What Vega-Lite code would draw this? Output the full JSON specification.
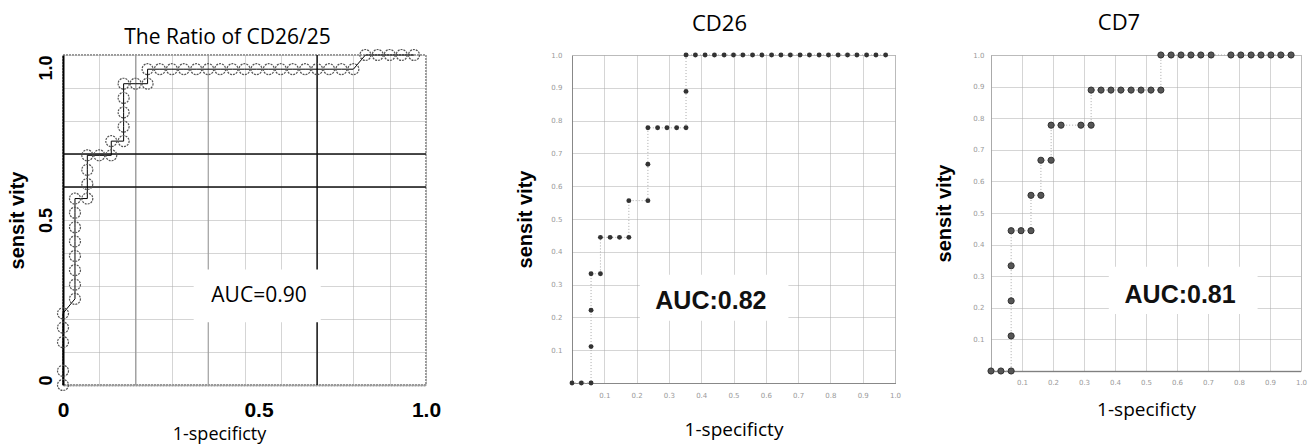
{
  "$schema": "https://vega.github.io/schema/vega-lite/v6.json",
  "padding": {"left": 6, "top": 11, "right": 0, "bottom": 0},
  "background": "white",
  "spacing": 73,
  "datasets": {
    "p1": [
      {"fpr": 0, "tpr": 0}, {"fpr": 0, "tpr": 0.043}, {"fpr": 0, "tpr": 0.13}, {"fpr": 0, "tpr": 0.174}, {"fpr": 0, "tpr": 0.217},
      {"fpr": 0.033, "tpr": 0.261}, {"fpr": 0.033, "tpr": 0.304}, {"fpr": 0.033, "tpr": 0.348}, {"fpr": 0.033, "tpr": 0.391}, {"fpr": 0.033, "tpr": 0.435}, {"fpr": 0.033, "tpr": 0.478}, {"fpr": 0.033, "tpr": 0.522}, {"fpr": 0.033, "tpr": 0.565},
      {"fpr": 0.067, "tpr": 0.565}, {"fpr": 0.067, "tpr": 0.609}, {"fpr": 0.067, "tpr": 0.652}, {"fpr": 0.067, "tpr": 0.696},
      {"fpr": 0.1, "tpr": 0.696}, {"fpr": 0.133, "tpr": 0.696}, {"fpr": 0.133, "tpr": 0.739},
      {"fpr": 0.167, "tpr": 0.739}, {"fpr": 0.167, "tpr": 0.783}, {"fpr": 0.167, "tpr": 0.826}, {"fpr": 0.167, "tpr": 0.87}, {"fpr": 0.167, "tpr": 0.913},
      {"fpr": 0.2, "tpr": 0.913}, {"fpr": 0.233, "tpr": 0.913}, {"fpr": 0.233, "tpr": 0.957},
      {"fpr": 0.267, "tpr": 0.957}, {"fpr": 0.3, "tpr": 0.957}, {"fpr": 0.333, "tpr": 0.957}, {"fpr": 0.367, "tpr": 0.957}, {"fpr": 0.4, "tpr": 0.957}, {"fpr": 0.433, "tpr": 0.957}, {"fpr": 0.467, "tpr": 0.957}, {"fpr": 0.5, "tpr": 0.957}, {"fpr": 0.533, "tpr": 0.957}, {"fpr": 0.567, "tpr": 0.957}, {"fpr": 0.6, "tpr": 0.957}, {"fpr": 0.633, "tpr": 0.957}, {"fpr": 0.667, "tpr": 0.957}, {"fpr": 0.7, "tpr": 0.957}, {"fpr": 0.733, "tpr": 0.957}, {"fpr": 0.767, "tpr": 0.957}, {"fpr": 0.8, "tpr": 0.957},
      {"fpr": 0.833, "tpr": 1}, {"fpr": 0.867, "tpr": 1}, {"fpr": 0.9, "tpr": 1}, {"fpr": 0.933, "tpr": 1}, {"fpr": 0.967, "tpr": 1}
    ],
    "p2": [
      {"fpr": 0, "tpr": 0}, {"fpr": 0.029, "tpr": 0}, {"fpr": 0.059, "tpr": 0}, {"fpr": 0.059, "tpr": 0.111}, {"fpr": 0.059, "tpr": 0.222}, {"fpr": 0.059, "tpr": 0.333},
      {"fpr": 0.088, "tpr": 0.333}, {"fpr": 0.088, "tpr": 0.444}, {"fpr": 0.118, "tpr": 0.444}, {"fpr": 0.147, "tpr": 0.444}, {"fpr": 0.176, "tpr": 0.444}, {"fpr": 0.176, "tpr": 0.556},
      {"fpr": 0.235, "tpr": 0.556}, {"fpr": 0.235, "tpr": 0.667}, {"fpr": 0.235, "tpr": 0.778}, {"fpr": 0.265, "tpr": 0.778}, {"fpr": 0.294, "tpr": 0.778}, {"fpr": 0.324, "tpr": 0.778}, {"fpr": 0.353, "tpr": 0.778}, {"fpr": 0.353, "tpr": 0.889}, {"fpr": 0.353, "tpr": 1},
      {"fpr": 0.382, "tpr": 1}, {"fpr": 0.412, "tpr": 1}, {"fpr": 0.441, "tpr": 1}, {"fpr": 0.471, "tpr": 1}, {"fpr": 0.5, "tpr": 1}, {"fpr": 0.529, "tpr": 1}, {"fpr": 0.559, "tpr": 1}, {"fpr": 0.588, "tpr": 1}, {"fpr": 0.618, "tpr": 1}, {"fpr": 0.647, "tpr": 1}, {"fpr": 0.676, "tpr": 1}, {"fpr": 0.706, "tpr": 1}, {"fpr": 0.735, "tpr": 1}, {"fpr": 0.765, "tpr": 1}, {"fpr": 0.794, "tpr": 1}, {"fpr": 0.824, "tpr": 1}, {"fpr": 0.853, "tpr": 1}, {"fpr": 0.882, "tpr": 1}, {"fpr": 0.912, "tpr": 1}, {"fpr": 0.941, "tpr": 1}, {"fpr": 0.971, "tpr": 1}
    ],
    "p3": [
      {"fpr": 0, "tpr": 0}, {"fpr": 0.032, "tpr": 0}, {"fpr": 0.065, "tpr": 0}, {"fpr": 0.065, "tpr": 0.111}, {"fpr": 0.065, "tpr": 0.222}, {"fpr": 0.065, "tpr": 0.333}, {"fpr": 0.065, "tpr": 0.444},
      {"fpr": 0.097, "tpr": 0.444}, {"fpr": 0.129, "tpr": 0.444}, {"fpr": 0.129, "tpr": 0.556}, {"fpr": 0.161, "tpr": 0.556}, {"fpr": 0.161, "tpr": 0.667}, {"fpr": 0.194, "tpr": 0.667}, {"fpr": 0.194, "tpr": 0.778}, {"fpr": 0.226, "tpr": 0.778}, {"fpr": 0.29, "tpr": 0.778}, {"fpr": 0.323, "tpr": 0.778}, {"fpr": 0.323, "tpr": 0.889},
      {"fpr": 0.355, "tpr": 0.889}, {"fpr": 0.387, "tpr": 0.889}, {"fpr": 0.419, "tpr": 0.889}, {"fpr": 0.452, "tpr": 0.889}, {"fpr": 0.484, "tpr": 0.889}, {"fpr": 0.516, "tpr": 0.889}, {"fpr": 0.548, "tpr": 0.889}, {"fpr": 0.548, "tpr": 1},
      {"fpr": 0.581, "tpr": 1}, {"fpr": 0.613, "tpr": 1}, {"fpr": 0.645, "tpr": 1}, {"fpr": 0.677, "tpr": 1}, {"fpr": 0.71, "tpr": 1},
      {"fpr": 0.774, "tpr": 1}, {"fpr": 0.806, "tpr": 1}, {"fpr": 0.839, "tpr": 1}, {"fpr": 0.871, "tpr": 1}, {"fpr": 0.903, "tpr": 1}, {"fpr": 0.935, "tpr": 1}, {"fpr": 0.968, "tpr": 1}
    ]
  },
  "hconcat": [
    {
      "width": 363,
      "height": 330,
      "title": {"text": "The Ratio of CD26/25", "font": "Open Sans", "fontSize": 21, "fontWeight": "normal", "color": "#000", "offset": -1, "dx": -17},
      "view": {"stroke": "#999", "strokeWidth": 2, "strokeDash": [2, 1]},
      "data": {"name": "p1"},
      "encoding": {
        "x": {"field": "fpr", "type": "quantitative", "scale": {"domain": [0, 1], "nice": false, "zero": false},
          "axis": {"tickCount": 10, "labelExpr": "datum.value == 0 ? '0' : datum.value == 0.5 ? '0.5' : datum.value == 1 ? '1.0' : ''", "labelOverlap": false, "labelFlush": false, "labelOffset": {"condition": {"test": "datum.value == 0.5", "value": 14}, "value": 0}, "ticks": false, "grid": true, "gridColor": "#aaa", "gridDash": [1, 1], "domainColor": "#999", "domainDash": [2, 1], "domainWidth": 2, "labelFont": "Liberation Sans", "labelFontWeight": "bold", "labelFontSize": 21, "labelColor": "#000", "labelPadding": 14, "title": "1-specificty", "titleFont": "Open Sans", "titleFontWeight": "normal", "titleFontSize": 18, "titleColor": "#000", "titlePadding": 5, "titleX": 156}},
        "y": {"field": "tpr", "type": "quantitative", "scale": {"domain": [0, 1], "nice": false, "zero": false},
          "axis": {"tickCount": 10, "labelExpr": "datum.value == 0 ? '0' : datum.value == 0.5 ? '0.5' : datum.value == 1 ? '1.0' : ''", "labelOverlap": false, "labelFlush": false, "ticks": false, "grid": true, "gridColor": "#aaa", "gridDash": [1, 1], "domainColor": "#000", "domainWidth": 2, "labelAngle": -90, "labelBaseline": "bottom", "labelAlign": {"condition": [{"test": "datum.value == 1", "value": "right"}, {"test": "datum.value == 0", "value": "left"}], "value": "center"}, "labelFont": "Liberation Sans", "labelFontWeight": "bold", "labelFontSize": 18, "labelColor": "#000", "labelPadding": 8, "title": "sensit vity", "titleFont": "Liberation Sans", "titleFontWeight": "bold", "titleFontSize": 20, "titleColor": "#000", "titlePadding": 10}}
      },
      "layer": [
        {"data": {"values": [{"fpr": 0.2, "tpr": 0, "tpr2": 1}, {"fpr": 0.4, "tpr": 0, "tpr2": 1}]}, "mark": {"type": "rule", "color": "#999", "strokeWidth": 1}, "encoding": {"y2": {"field": "tpr2"}}},
        {"data": {"values": [{"fpr": 0.7, "tpr": 0, "tpr2": 1}]}, "mark": {"type": "rule", "color": "#111", "strokeWidth": 1.5}, "encoding": {"y2": {"field": "tpr2"}}},
        {"data": {"values": [{"fpr": 0, "fpr2": 1, "tpr": 0.6}, {"fpr": 0, "fpr2": 1, "tpr": 0.7}]}, "mark": {"type": "rule", "color": "#111", "strokeWidth": 1.5}, "encoding": {"x2": {"field": "fpr2"}}},
        {"data": {"values": [{"fpr": 0.36, "fpr2": 0.71, "tpr": 0.19, "tpr2": 0.35}]}, "mark": {"type": "rect", "color": "white"}, "encoding": {"x2": {"field": "fpr2"}, "y2": {"field": "tpr2"}}},
        {"mark": {"type": "line", "color": "#000", "strokeWidth": 1}},
        {"mark": {"type": "point", "shape": "circle", "filled": false, "color": "#555", "strokeWidth": 1.2, "strokeDash": [2, 1], "size": 120, "opacity": 1}},
        {"data": {"values": [{"fpr": 0.54, "tpr": 0.27, "label": "AUC=0.90"}]}, "mark": {"type": "text", "font": "Open Sans", "fontSize": 21, "color": "#000", "align": "center", "baseline": "middle"}, "encoding": {"text": {"field": "label"}}}
      ]
    },
    {
      "spacing": 32,
      "hconcat": [
        {
          "width": 323,
          "height": 328,
          "title": {"text": "CD26", "font": "Open Sans", "fontSize": 22, "fontWeight": "normal", "color": "#000", "offset": 15, "dx": -14},
          "view": {"stroke": "#999", "strokeWidth": 1, "strokeDash": [1, 1]},
          "data": {"name": "p2"},
          "encoding": {
            "x": {"field": "fpr", "type": "quantitative", "scale": {"domain": [0, 1], "nice": false, "zero": false},
              "axis": {"tickCount": 10, "labelExpr": "datum.value == 0 ? '' : format(datum.value, '.1f')", "labelOverlap": false, "labelFlush": false, "ticks": false, "grid": true, "gridColor": "#aaa", "gridDash": [1, 1], "domainColor": "#555", "domainDash": [1, 1], "domainWidth": 1, "labelFont": "DejaVu Sans", "labelFontSize": 7, "labelColor": "#999", "labelPadding": 8, "title": "1-specificty", "titleFont": "Open Sans", "titleFontWeight": "normal", "titleFontSize": 19, "titleColor": "#000", "titlePadding": 22}},
            "y": {"field": "tpr", "type": "quantitative", "scale": {"domain": [0, 1], "nice": false, "zero": false},
              "axis": {"tickCount": 10, "labelExpr": "datum.value == 0 ? '' : format(datum.value, '.1f')", "labelOverlap": false, "labelFlush": false, "ticks": false, "grid": true, "gridColor": "#aaa", "gridDash": [1, 1], "domainColor": "#555", "domainDash": [1, 1], "domainWidth": 1, "labelFont": "DejaVu Sans", "labelFontSize": 7, "labelColor": "#999", "labelPadding": 10, "title": "sensit vity", "titleFont": "Liberation Sans", "titleFontWeight": "bold", "titleFontSize": 20, "titleColor": "#000", "titlePadding": 15}}
          },
          "layer": [
            {"data": {"values": [{"fpr": 0.21, "fpr2": 0.67, "tpr": 0.19, "tpr2": 0.33}]}, "mark": {"type": "rect", "color": "white"}, "encoding": {"x2": {"field": "fpr2"}, "y2": {"field": "tpr2"}}},
            {"mark": {"type": "line", "color": "#aaa", "strokeWidth": 1, "strokeDash": [1, 2]}},
            {"mark": {"type": "point", "shape": "circle", "filled": true, "color": "#333", "size": 24, "opacity": 1}},
            {"data": {"values": [{"fpr": 0.43, "tpr": 0.25, "label": "AUC:0.82"}]}, "mark": {"type": "text", "font": "Liberation Sans", "fontWeight": "bold", "fontSize": 25, "color": "#111", "align": "center", "baseline": "middle"}, "encoding": {"text": {"field": "label"}}}
          ]
        },
        {
          "width": 310,
          "height": 316,
          "title": {"text": "CD7", "font": "Open Sans", "fontSize": 22, "fontWeight": "normal", "color": "#000", "offset": 15, "dx": -27},
          "view": {"stroke": "#999", "strokeWidth": 1, "strokeDash": [1, 1]},
          "data": {"name": "p3"},
          "encoding": {
            "x": {"field": "fpr", "type": "quantitative", "scale": {"domain": [0, 1], "nice": false, "zero": false},
              "axis": {"tickCount": 10, "labelExpr": "datum.value == 0 ? '' : format(datum.value, '.1f')", "labelOverlap": false, "labelFlush": false, "ticks": false, "grid": true, "gridColor": "#aaa", "gridDash": [1, 1], "domainColor": "#444", "domainDash": [1, 1], "domainWidth": 1.5, "labelFont": "DejaVu Sans", "labelFontSize": 7, "labelColor": "#999", "labelPadding": 7, "title": "1-specificty", "titleFont": "Open Sans", "titleFontWeight": "normal", "titleFontSize": 19, "titleColor": "#000", "titlePadding": 15}},
            "y": {"field": "tpr", "type": "quantitative", "scale": {"domain": [0, 1], "nice": false, "zero": false},
              "axis": {"tickCount": 10, "labelExpr": "datum.value == 0 ? '' : format(datum.value, '.1f')", "labelOverlap": false, "labelFlush": false, "ticks": false, "grid": true, "gridColor": "#aaa", "gridDash": [1, 1], "domainColor": "#999", "domainDash": [1, 1], "domainWidth": 1, "labelFont": "DejaVu Sans", "labelFontSize": 7, "labelColor": "#999", "labelPadding": 7, "title": "sensit vity", "titleFont": "Liberation Sans", "titleFontWeight": "bold", "titleFontSize": 20, "titleColor": "#000", "titlePadding": 18}}
          },
          "layer": [
            {"data": {"values": [{"fpr": 0.38, "fpr2": 0.86, "tpr": 0.18, "tpr2": 0.33}]}, "mark": {"type": "rect", "color": "white"}, "encoding": {"x2": {"field": "fpr2"}, "y2": {"field": "tpr2"}}},
            {"mark": {"type": "line", "color": "#aaa", "strokeWidth": 1, "strokeDash": [1, 2]}},
            {"mark": {"type": "point", "shape": "circle", "filled": true, "color": "#555", "stroke": "#333", "strokeWidth": 1, "size": 38, "opacity": 1}},
            {"data": {"values": [{"fpr": 0.61, "tpr": 0.24, "label": "AUC:0.81"}]}, "mark": {"type": "text", "font": "Liberation Sans", "fontWeight": "bold", "fontSize": 25, "color": "#111", "align": "center", "baseline": "middle"}, "encoding": {"text": {"field": "label"}}}
          ]
        }
      ]
    }
  ]
}
